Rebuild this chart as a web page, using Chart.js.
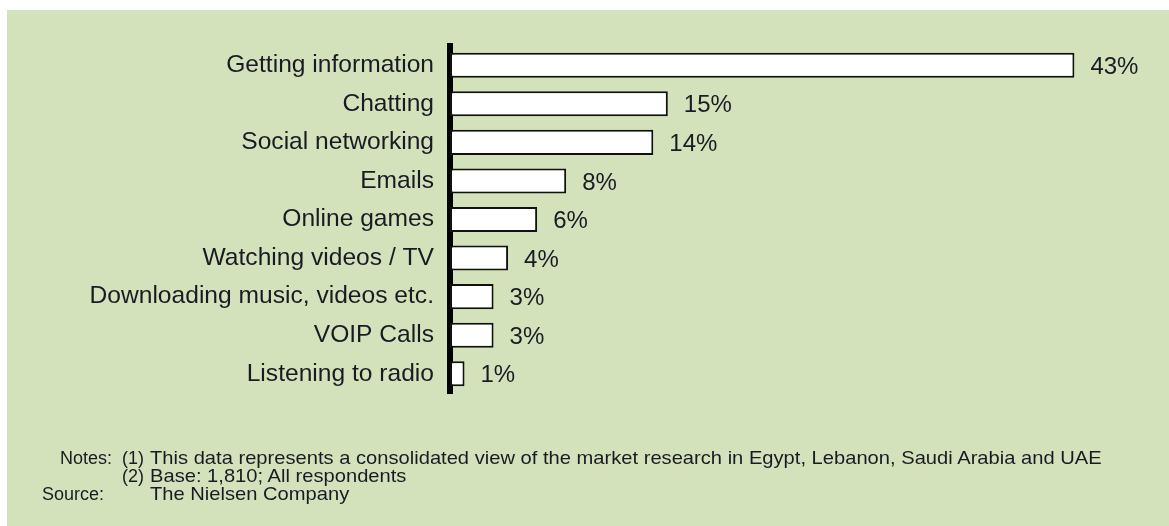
<!DOCTYPE html>
<html>
<head>
<meta charset="utf-8">
<script src="https://cdn.jsdelivr.net/npm/chart.js@4.4.1/dist/chart.umd.min.js"></script>
<style>
  body { margin: 0; background: #fff; }
  #panel { position: absolute; left: 7px; top: 10px; width: 1162px; height: 516px; background: #d4e2bb; }
  #wrap { position: absolute; left: 0; top: 0; width: 1169px; height: 526px; }
  .note { position: absolute; font: 18px "Liberation Sans", Arial, sans-serif; line-height: 18px; color: #1a1a24; white-space: nowrap; }
  .note.wide { font-size: 19px; transform-origin: 0 50%; transform: scaleX(1.06); }
</style>
</head>
<body>
<div id="panel"></div>
<div id="wrap"><canvas id="myChart"></canvas></div>

<div class="note" style="left:60px;top:449px">Notes:</div>
<div class="note" style="left:122px;top:449px">(1)</div>
<div class="note wide" style="left:150px;top:449px">This data represents a consolidated view of the market research in Egypt, Lebanon, Saudi Arabia and UAE</div>
<div class="note" style="left:122px;top:467px">(2)</div>
<div class="note wide" style="left:150px;top:467px">Base: 1,810; All respondents</div>
<div class="note" style="left:42px;top:485px">Source:</div>
<div class="note wide" style="left:150px;top:485px">The Nielsen Company</div>

<script>
  // activities and share of respondents (%)
  var activities = [
    "Getting information",
    "Chatting",
    "Social networking",
    "Emails",
    "Online games",
    "Watching videos / TV",
    "Downloading music, videos etc.",
    "VOIP Calls",
    "Listening to radio"
  ];

  var shares = [43, 15, 14, 8, 6, 4, 3, 3, 1];

  var textColor = "#1a1a24";
  var fontFamily = "'Liberation Sans', Arial, sans-serif";

  // percent labels to the right of each bar
  var valueLabels = {
    id: 'valueLabels',
    afterDatasetsDraw: function(chart) {
      var ctx = chart.ctx;
      var meta = chart.getDatasetMeta(0);
      ctx.save();
      ctx.font = "24px " + fontFamily;
      ctx.fillStyle = textColor;
      ctx.textAlign = "left";
      ctx.textBaseline = "middle";
      meta.data.forEach(function(bar, i) {
        ctx.fillText(shares[i] + "%", bar.x + 16, bar.y + 2);
      });
      ctx.restore();
    }
  };

  var data = {
    labels: activities,
    datasets: [{
      data: shares,
      backgroundColor: "#ffffff",
      borderColor: "#111111",
      borderWidth: 2,
      borderSkipped: false,
      barPercentage: 0.65,
      categoryPercentage: 1
    }]
  };

  const config = {
    type: 'bar',
    data,
    options: {
      indexAxis: 'y',
      responsive: true,
      maintainAspectRatio: false,
      animation: false,
      layout: { padding: { top: 46, bottom: 133, left: 0, right: 22 } },
      plugins: {
        legend: { display: false },
        tooltip: { enabled: false }
      },
      scales: {
        x: {
          display: false,
          min: 0,
          max: 48
        },
        y: {
          z: 1,
          grid: { display: false, drawTicks: false },
          border: { display: true, color: "#000000", width: 6 },
          ticks: {
            color: textColor,
            padding: 16,
            font: { family: fontFamily, size: 24.6 }
          },
          afterFit: function(scale) { scale.width = 450; }
        }
      }
    },
    plugins: [valueLabels]
  };

  var myChart = new Chart(document.getElementById('myChart'), config);
</script>
</body>
</html>
